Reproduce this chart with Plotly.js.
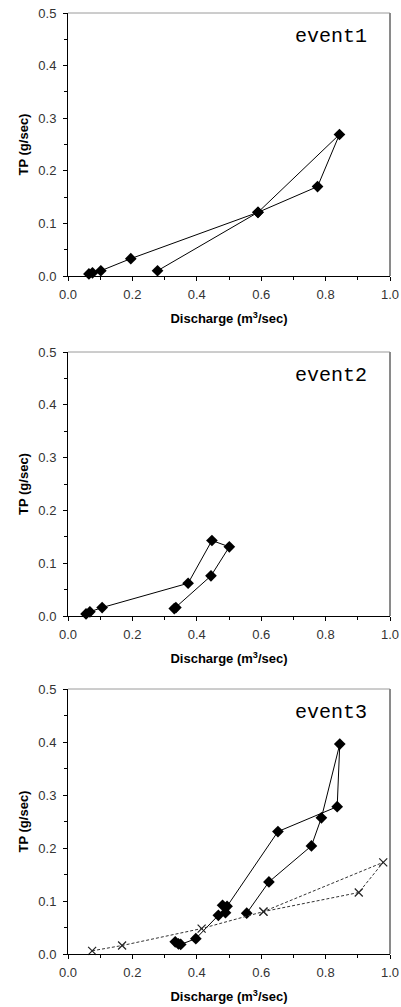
<!DOCTYPE html>
<html><head><meta charset="utf-8">
<script src="https://cdn.plot.ly/plotly-3.0.1.min.js"></script>
<style>html,body{margin:0;padding:0;background:#fff}#chart{width:401px;height:1007px}</style>
</head><body><div id="chart"></div>
<script>
// event1
const e1Q  = [0.065, 0.076, 0.102, 0.195, 0.590, 0.775, 0.843, 0.590, 0.278];
const e1TP = [0.004, 0.006, 0.010, 0.033, 0.121, 0.170, 0.269, 0.121, 0.010];
// event2
const e2Q  = [0.056, 0.068, 0.106, 0.373, 0.447, 0.501, 0.444, 0.335, 0.330];
const e2TP = [0.004, 0.008, 0.016, 0.062, 0.143, 0.131, 0.076, 0.016, 0.014];
// event3 (diamonds)
const e3Q  = [0.555, 0.624, 0.756, 0.787, 0.844, 0.836, 0.652, 0.494, 0.480, 0.489, 0.467, 0.397, 0.350, 0.343, 0.333];
const e3TP = [0.077, 0.136, 0.204, 0.257, 0.396, 0.278, 0.231, 0.090, 0.092, 0.078, 0.073, 0.029, 0.018, 0.019, 0.023];
// event3 (crosses)
const e3bQ  = [0.075, 0.168, 0.415, 0.607, 0.903, 0.979, 0.607];
const e3bTP = [0.006, 0.016, 0.048, 0.080, 0.116, 0.173, 0.080];

const eventLabels = ['event1', 'event2', 'event3'];
const xTitle = 'Discharge (m<sup>3</sup>/sec)';
const yTitle = 'TP (g/sec)';

const H = 1007;
const panels = [[13, 276], [352, 616], [689, 954]]; // top,bottom px
function dom(p){ return [1 - p[1]/H, 1 - p[0]/H]; }

const diamond = {symbol: 'diamond', size: 9, color: '#000'};
function dTrace(x, y, i){
  return {x: x, y: y, xaxis: 'x' + (i===0?'':i+1), yaxis: 'y' + (i===0?'':i+1),
    mode: 'lines+markers', type: 'scatter', cliponaxis: false,
    line: {color: '#000', width: 1}, marker: diamond, showlegend: false, hoverinfo: 'skip'};
}
const traces = [
  dTrace(e1Q, e1TP, 0),
  dTrace(e2Q, e2TP, 1),
  dTrace(e3Q, e3TP, 2),
  {x: e3bQ, y: e3bTP, xaxis: 'x3', yaxis: 'y3', mode: 'lines+markers', type: 'scatter', cliponaxis: false,
   line: {color: '#333', width: 1, dash: '3px,2px'},
   marker: {symbol: 'x-thin', size: 8, line: {color: '#222', width: 1.2}, color: '#222'},
   showlegend: false, hoverinfo: 'skip'}
];

const tickFont = {family: 'Liberation Sans, Arial, sans-serif', size: 13, color: '#333'};
const titleFont = {family: 'Liberation Sans, Arial, sans-serif', size: 13, color: '#000', weight: 'bold'};

const layout = {
  width: 401, height: 1007,
  margin: {l: 68, r: 11, t: 0, b: 0},
  paper_bgcolor: '#fff', plot_bgcolor: '#fff',
  showlegend: false,
  shapes: [], annotations: []
};
for (let i = 0; i < 3; i++) {
  const s = i === 0 ? '' : String(i + 1);
  layout['xaxis' + s] = {
    domain: [0, 1], anchor: 'y' + s, range: [0, 1], dtick: 0.2, tick0: 0, tickformat: '.1f',
    showgrid: false, zeroline: false, showline: true, linecolor: '#000', linewidth: 1,
    ticks: 'outside', ticklen: 4, tickcolor: '#000', tickfont: tickFont, ticklabelstandoff: 2,
    minor: {dtick: 0.1, ticks: 'outside', ticklen: 3, tickcolor: '#000', showgrid: false},
    title: {text: xTitle, font: titleFont, standoff: 13},
    automargin: false, fixedrange: true
  };
  layout['yaxis' + s] = {
    domain: dom(panels[i]), anchor: 'x' + s, range: [0, 0.5], dtick: 0.1, tick0: 0, tickformat: '.1f',
    showgrid: false, zeroline: false, showline: true, linecolor: '#000', linewidth: 1,
    ticks: 'outside', ticklen: 4, tickcolor: '#000', tickfont: tickFont, ticklabelstandoff: 4,
    minor: {dtick: 0.05, ticks: 'outside', ticklen: 3, tickcolor: '#000', showgrid: false},
    title: {text: yTitle, font: titleFont, standoff: 6},
    automargin: false, fixedrange: true
  };
  const xr = 'x' + s + ' domain', yr = 'y' + s + ' domain';
  layout.shapes.push({type: 'line', xref: xr, yref: yr, x0: 0, x1: 1, y0: 1, y1: 1, line: {color: '#9a9a9a', width: 1}});
  layout.shapes.push({type: 'line', xref: xr, yref: yr, x0: 1, x1: 1, y0: 0, y1: 1, line: {color: '#8a8a8a', width: 2}});
  layout.annotations.push({text: eventLabels[i], xref: xr, yref: yr, x: 0.935, y: 0.912,
    xanchor: 'right', yanchor: 'middle', showarrow: false,
    font: {family: 'Liberation Mono, DejaVu Sans Mono, monospace', size: 20, color: '#000'}});
}

Plotly.newPlot('chart', traces, layout, {staticPlot: true, displayModeBar: false});
</script>
</body></html>
